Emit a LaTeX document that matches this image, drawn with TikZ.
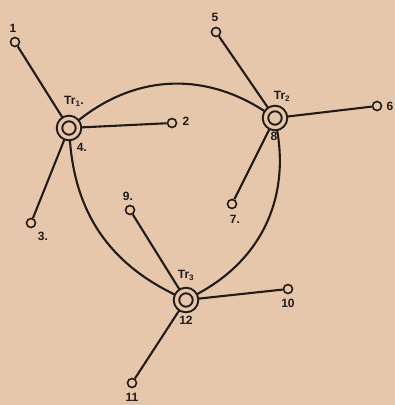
\documentclass[tikz,border=0pt]{standalone}
\usepackage{fontspec}
\usepackage{tikz}
\usetikzlibrary{positioning}
\newfontfamily\lblfont{Liberation Sans}
\definecolor{paper}{RGB}{231,199,172}
\definecolor{ink}{RGB}{33,27,24}
\tikzset{
  trafo/.style={circle, draw=ink, double=paper, double distance=3.4pt, line width=2pt,
                minimum size=19pt, inner sep=0pt, outer sep=2.6pt, fill=paper},
  term/.style={circle, draw=ink, line width=1.6pt, minimum size=9pt, inner sep=0pt, fill=paper},
  lbl/.style={font=\lblfont\bfseries\fontsize{12}{12}\selectfont, text=ink, inner sep=1pt},
  wire/.style={draw=ink, line width=2.1pt},
}

\begin{document}
\begin{tikzpicture}[x=1pt, y=1pt]
  \useasboundingbox[fill=paper] (0,0) rectangle (395,405);
  % transformer stations
  \node[trafo] (tr1) at (69,277) {};
  \node[trafo] (tr2) at (275,287) {};
  \node[trafo] (tr3) at (186,105) {};
  % ring lines
  \draw[wire] (tr1) to[bend left=36] (tr2);
  \draw[wire] (tr1) to[bend right=30] (tr3);
  \draw[wire] (tr2) to[bend left=36] (tr3);
  % feeder ends
  \node[term] (t1) at (15,363) {};
  \node[term] (t2) at (172,282) {};
  \node[term] (t3) at (31,182) {};
  \node[term] (t5) at (216,373) {};
  \node[term] (t6) at (377,299) {};
  \node[term] (t7) at (232,201) {};
  \node[term] (t9) at (130,195) {};
  \node[term] (t10) at (288,116) {};
  \node[term] (t11) at (132,22) {};
  \foreach \a/\b in {tr1/t1, tr1/t2, tr1/t3, tr2/t5, tr2/t6, tr2/t7, tr3/t9, tr3/t10, tr3/t11}
    \draw[wire] (\a) -- (\b);
  % numbers
  \node[lbl, above=3pt of t1, xshift=-2pt] (l1) {1};
  \node[lbl, right=4pt of t2, yshift=2pt] (l2) {2};
  \node[lbl, below right=4pt and 2pt of t3] (l3) {3.};
  \node[lbl, below right=5pt and -2pt of tr1] (l4) {4.};
  \node[lbl, above=4pt of t5, xshift=-1pt] (l5) {5};
  \node[lbl, right=3pt of t6] (l6) {6};
  \node[lbl, below=5pt of t7, xshift=3pt] (l7) {7.};
  \node[lbl, below=1pt of tr2, xshift=-1pt] (l8) {8};
  \node[lbl, above=3pt of t9, xshift=-2pt] (l9) {9.};
  \node[lbl, below=4pt of t10] (l10) {10};
  \node[lbl, below=4pt of t11] (l11) {11};
  \node[lbl, below=3pt of tr3] (l12) {12};
  % station names
  \node[lbl, above=8pt of tr1, xshift=5pt] (n1) {Tr\textsubscript{1}.};
  \node[lbl, above=3pt of tr2, xshift=7pt] (n2) {Tr\textsubscript{2}};
  \node[lbl, above=6pt of tr3] (n3) {Tr\textsubscript{3}};
\end{tikzpicture}
\end{document}
